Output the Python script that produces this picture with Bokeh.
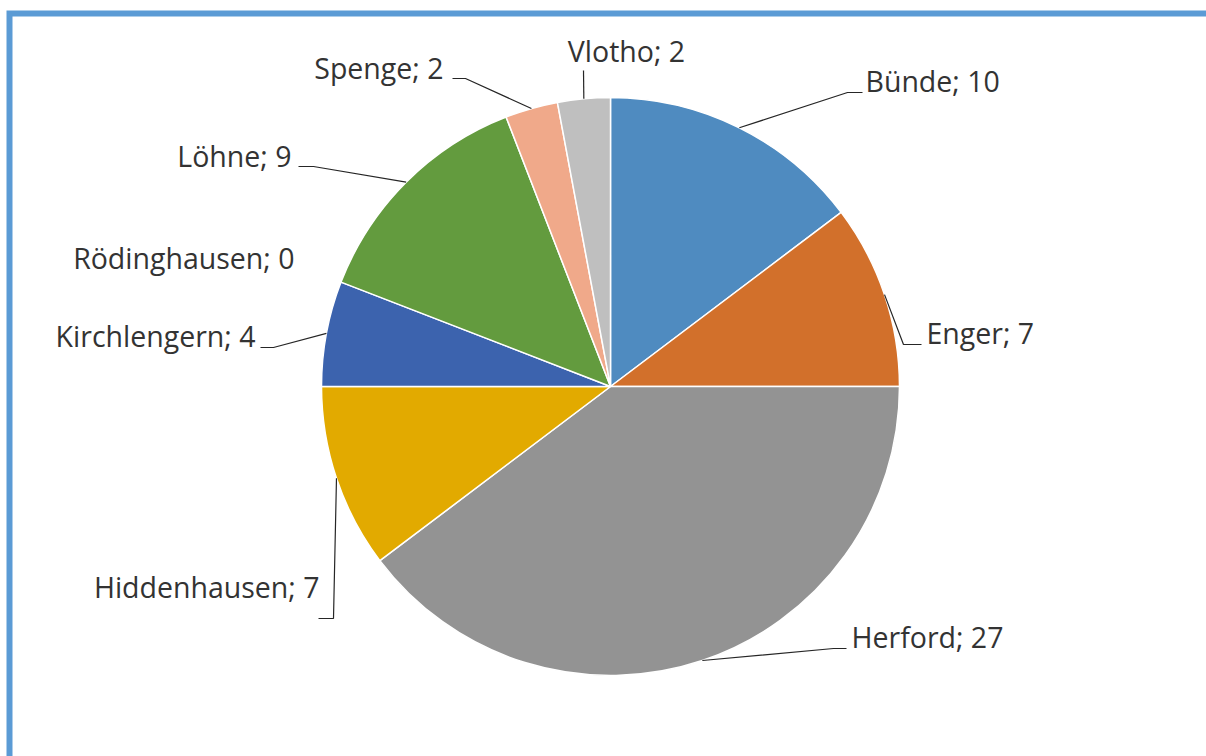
import math
from bokeh.plotting import figure
from bokeh.models import Range1d, ColumnDataSource
from bokeh.core.properties import value
from bokeh.embed import file_html
from bokeh.resources import INLINE

# ---- data ----
names = ["Bünde", "Enger", "Herford", "Hiddenhausen", "Kirchlengern",
         "Rödinghausen", "Löhne", "Spenge", "Vlotho"]
counts = [10, 7, 27, 7, 4, 0, 9, 2, 2]
colors = ["#4F8BC0", "#D2702B", "#939393", "#E2AA00", "#3C63AE",
          "#5B9BD5", "#639B3E", "#F0A98A", "#BFBFBF"]

# ---- layout (page pixel positions for labels / leader bends) ----
label_layout = {
    "Bünde":        dict(x=865, y=92,  align="left",   leader=[(847, 92), (862, 92)]),
    "Enger":        dict(x=926, y=344, align="left",   leader=[(903, 344), (921, 344)]),
    "Herford":      dict(x=851, y=648, align="left",   leader=[(833, 648), (846, 648)]),
    "Hiddenhausen": dict(x=319, y=598, align="right",  leader=[(333, 618), (318, 618)]),
    "Kirchlengern": dict(x=255, y=347, align="right",  leader=[(273, 347), (260, 347)]),
    "Rödinghausen": dict(x=294, y=269, align="right",  leader=None),
    "Löhne":        dict(x=291, y=167, align="right",  leader=[(313, 166), (298, 166)]),
    "Spenge":       dict(x=443, y=79,  align="right",  leader=[(465, 78), (452, 78)]),
    "Vlotho":       dict(x=626, y=62,  align="center", leader=[(583, 70)]),
}
TEXT_SHIFT = 12  # labels sit this many px above their baseline estimate

W, H = 1206, 756
OFF = 0


def px(x):
    return x - OFF


def py(y):
    return (OFF + H) - y


CX, CY, R = px(610), py(386), 289

p = figure(width=W, height=H, output_backend="svg", toolbar_location=None,
           x_range=Range1d(0, W), y_range=Range1d(0, H), min_border=0)
p.axis.visible = False
p.grid.visible = False
p.outline_line_color = None
p.background_fill_color = "white"
p.border_fill_color = "white"

total = float(sum(counts))
starts, ends, cols, mids = [], [], [], []
cum = 0.0
for n, v, c in zip(names, counts, colors):
    a0 = cum / total * 2 * math.pi
    cum += v
    a1 = cum / total * 2 * math.pi
    mids.append((a0 + a1) / 2)
    if v > 0:
        # clockwise from top -> bokeh anticlock angles
        starts.append(math.pi / 2 - a1)
        ends.append(math.pi / 2 - a0)
        cols.append(c)

src = ColumnDataSource(dict(x=[CX] * len(starts), y=[CY] * len(starts),
                            s=starts, e=ends, c=cols))
p.wedge(x="x", y="y", radius=R, start_angle="s", end_angle="e",
        fill_color="c", line_color="white", line_width=1.5, source=src)

# leader lines
lx, ly = [], []
for n, v, m in zip(names, counts, mids):
    lay = label_layout[n]
    if lay["leader"] is None or v == 0:
        continue
    xs = [CX + R * math.sin(m)]
    ys = [CY + R * math.cos(m)]
    for bx, by in lay["leader"]:
        xs.append(px(bx))
        ys.append(py(by))
    lx.append(xs)
    ly.append(ys)
p.multi_line(xs=lx, ys=ly, line_color="#262626", line_width=1.2)

# labels
for align in ("left", "right", "center"):
    tx, ty, tt = [], [], []
    for n, v in zip(names, counts):
        lay = label_layout[n]
        if lay["align"] != align:
            continue
        tx.append(px(lay["x"]))
        ty.append(py(lay["y"] - TEXT_SHIFT))
        tt.append(f"{n}; {v}")
    p.text(x=tx, y=ty, text=tt, text_font=value("Open Sans"),
           text_font_size="28.5px", text_color="#333333",
           text_align=align, text_baseline="alphabetic")

# frame
p.line(x=[px(9), px(9), px(1250)], y=[py(800), py(13), py(13)],
       line_color="#5B9BD5", line_width=6, line_join="miter")

open("out.html", "w").write(file_html(p, INLINE))
